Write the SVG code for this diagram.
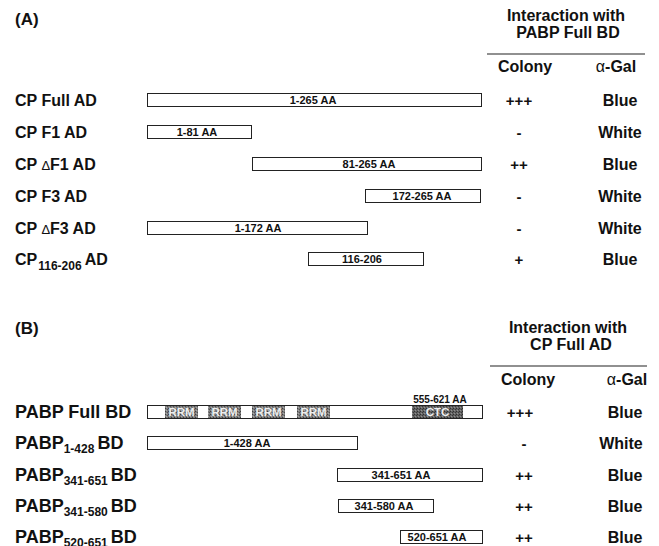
<svg xmlns="http://www.w3.org/2000/svg" width="659" height="546" viewBox="0 0 659 546">
<style>
text{font-family:"Liberation Sans",Arial,sans-serif;font-weight:bold;fill:#111}
.lbl{font-size:16px}
.plbl{font-size:18px}
.sub{font-size:12px}
.hdr{font-size:16px;text-anchor:middle}
.val{font-size:16px;text-anchor:middle}
.sym{font-size:15px;text-anchor:middle}
.bt{font-size:11px;text-anchor:middle}
.bar{fill:#fff;stroke:#222;stroke-width:1}
.dom{stroke:none}
.dt{font-size:11.5px;text-anchor:middle;fill:#eeeeee}
.rule{stroke:#222;stroke-width:1.2}
</style>
<defs>
<pattern id="stip" width="3" height="3" patternUnits="userSpaceOnUse">
<rect width="3" height="3" fill="#7c7c7c"/><rect width="1" height="1" fill="#404040"/><rect x="2" y="1" width="1" height="1" fill="#505050"/><rect x="1" y="2" width="1" height="1" fill="#a8a8a8"/>
</pattern>
<pattern id="stip2" width="3" height="3" patternUnits="userSpaceOnUse">
<rect width="3" height="3" fill="#626262"/><rect width="1" height="1" fill="#303030"/><rect x="2" y="1" width="1" height="1" fill="#3a3a3a"/><rect x="1" y="2" width="1" height="1" fill="#909090"/>
</pattern>
</defs>

<!-- Panel A -->
<g id="panelA-header">
<text x="15" y="25" style="font-size:17px">(A)</text>
<text class="hdr" x="566" y="21">Interaction with</text>
<text class="hdr" x="568" y="38">PABP Full BD</text>
<line class="rule" x1="487" y1="54" x2="645" y2="54"/>
<text class="hdr" x="525" y="72">Colony</text>
<text class="hdr" x="616" y="72"><tspan style="font-weight:normal">α</tspan>-Gal</text>
</g>

<g id="cp-full">
<text class="lbl" x="15" y="106">CP Full AD</text>
<rect class="bar" x="147.5" y="93.5" width="334" height="13"/>
<text class="bt" x="313" y="104">1-265 AA</text>
<text class="sym" x="519" y="106">+++</text>
<text class="val" x="620" y="106">Blue</text>
</g>

<g id="cp-f1">
<text class="lbl" x="15" y="138">CP F1 AD</text>
<rect class="bar" x="147.5" y="125.5" width="104" height="13"/>
<text class="bt" x="197" y="136">1-81 AA</text>
<text class="sym" x="519" y="138">-</text>
<text class="val" x="620" y="138">White</text>
</g>

<g id="cp-df1">
<text class="lbl" x="15" y="170">CP <tspan style="font-size:13px;font-weight:normal">Δ</tspan>F1 AD</text>
<rect class="bar" x="252.5" y="157.5" width="229" height="13"/>
<text class="bt" x="369" y="168">81-265 AA</text>
<text class="sym" x="519" y="170">++</text>
<text class="val" x="620" y="170">Blue</text>
</g>

<g id="cp-f3">
<text class="lbl" x="15" y="202">CP F3 AD</text>
<rect class="bar" x="365.5" y="189.5" width="115" height="13"/>
<text class="bt" x="422" y="200">172-265 AA</text>
<text class="sym" x="519" y="202">-</text>
<text class="val" x="620" y="202">White</text>
</g>

<g id="cp-df3">
<text class="lbl" x="15" y="234">CP <tspan style="font-size:13px;font-weight:normal">Δ</tspan>F3 AD</text>
<rect class="bar" x="147.5" y="221.5" width="220" height="13"/>
<text class="bt" x="258" y="232">1-172 AA</text>
<text class="sym" x="519" y="234">-</text>
<text class="val" x="620" y="234">White</text>
</g>

<g id="cp-116-206">
<text class="lbl" x="15" y="265">CP<tspan class="sub" dx="1" dy="5">116-206</tspan><tspan dx="3" dy="-5">AD</tspan></text>
<rect class="bar" x="308.5" y="252.5" width="115" height="13"/>
<text class="bt" x="362" y="263">116-206</text>
<text class="sym" x="519" y="265">+</text>
<text class="val" x="620" y="265">Blue</text>
</g>

<!-- Panel B -->
<g id="panelB-header">
<text x="15" y="334" style="font-size:17px">(B)</text>
<text class="hdr" x="568" y="333">Interaction with</text>
<text class="hdr" x="571" y="350">CP Full AD</text>
<line class="rule" x1="490" y1="366" x2="647" y2="366"/>
<text class="hdr" x="528" y="385">Colony</text>
<text class="hdr" x="627" y="385"><tspan style="font-weight:normal">α</tspan>-Gal</text>
</g>

<g id="pabp-full">
<text class="plbl" x="15" y="418">PABP Full BD</text>
<rect class="bar" x="147.5" y="405.5" width="335" height="13"/>
<rect class="dom" x="165" y="406" width="33" height="12" fill="url(#stip)"/>
<rect class="dom" x="208" y="406" width="33" height="12" fill="url(#stip)"/>
<rect class="dom" x="252" y="406" width="33" height="12" fill="url(#stip)"/>
<rect class="dom" x="297" y="406" width="33" height="12" fill="url(#stip)"/>
<rect class="dom" x="412" y="406" width="51" height="12" fill="url(#stip2)"/>
<text class="dt" x="181.5" y="416">RRM</text>
<text class="dt" x="224.5" y="416">RRM</text>
<text class="dt" x="268.5" y="416">RRM</text>
<text class="dt" x="313.5" y="416">RRM</text>
<text class="dt" x="437.5" y="416">CTC</text>
<text class="bt" x="440" y="403" style="font-size:10px">555-621 AA</text>
<text class="sym" x="520" y="418">+++</text>
<text class="val" x="625" y="418">Blue</text>
</g>

<g id="pabp-1-428">
<text class="plbl" x="15" y="449">PABP<tspan class="sub" dy="4">1-428</tspan><tspan dx="3" dy="-4">BD</tspan></text>
<rect class="bar" x="147.5" y="436.5" width="210" height="13"/>
<text class="bt" x="247" y="447">1-428 AA</text>
<text class="sym" x="524" y="449">-</text>
<text class="val" x="621" y="449">White</text>
</g>

<g id="pabp-341-651">
<text class="plbl" x="15" y="481">PABP<tspan class="sub" dy="4">341-651</tspan><tspan dx="3" dy="-4">BD</tspan></text>
<rect class="bar" x="337.5" y="468.5" width="145" height="13"/>
<text class="bt" x="401" y="479">341-651 AA</text>
<text class="sym" x="524" y="481">++</text>
<text class="val" x="625" y="481">Blue</text>
</g>

<g id="pabp-341-580">
<text class="plbl" x="15" y="512">PABP<tspan class="sub" dy="4">341-580</tspan><tspan dx="3" dy="-4">BD</tspan></text>
<rect class="bar" x="338.5" y="499.5" width="95" height="13"/>
<text class="bt" x="384" y="510">341-580 AA</text>
<text class="sym" x="524" y="512">++</text>
<text class="val" x="625" y="512">Blue</text>
</g>

<g id="pabp-520-651">
<text class="plbl" x="15" y="543">PABP<tspan class="sub" dy="4">520-651</tspan><tspan dx="3" dy="-4">BD</tspan></text>
<rect class="bar" x="400.5" y="530.5" width="82" height="13"/>
<text class="bt" x="437" y="541">520-651 AA</text>
<text class="sym" x="524" y="543">++</text>
<text class="val" x="625" y="543">Blue</text>
</g>

<g id="connectors"></g>
</svg>
